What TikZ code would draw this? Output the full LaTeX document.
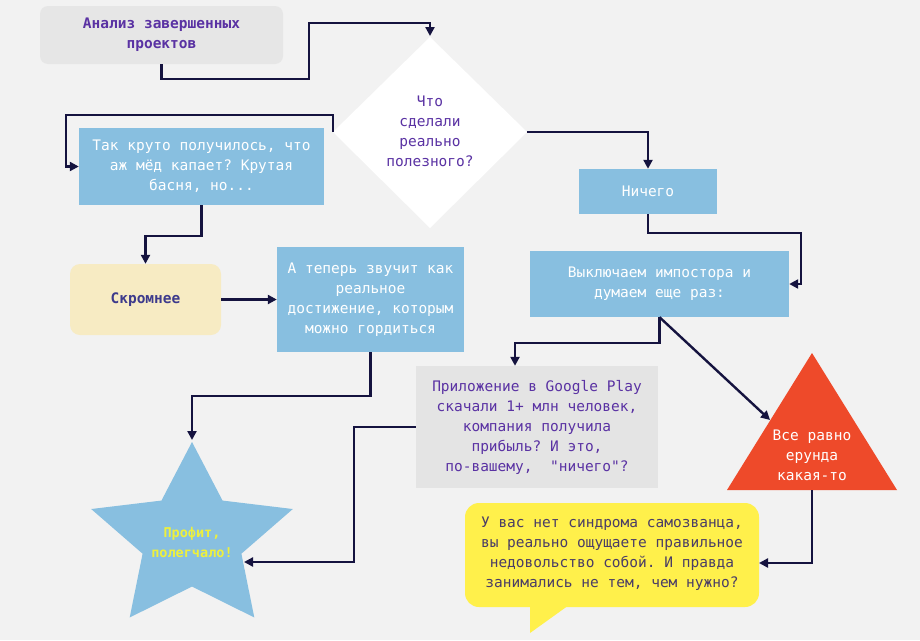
\documentclass[tikz,border=0pt]{standalone}
\usepackage{fontspec}
\setmainfont{DejaVu Sans Mono}
\setmonofont{DejaVu Sans Mono}
\renewcommand{\familydefault}{\ttdefault}
\usetikzlibrary{arrows.meta,calc}
\definecolor{bgc}{HTML}{F2F2F2}
\definecolor{headfill}{HTML}{E6E6E6}
\definecolor{boxblue}{HTML}{88BFE0}
\definecolor{grayfill}{HTML}{E4E4E4}
\definecolor{bubble}{HTML}{FFF04B}
\definecolor{paleyel}{HTML}{F7EBC3}
\definecolor{tri}{HTML}{EE4A2A}
\definecolor{purp}{HTML}{5A32A3}
\definecolor{navytxt}{HTML}{3D3A8C}
\definecolor{conncol}{HTML}{15133F}
\definecolor{startxt}{HTML}{EEF03C}
\definecolor{bubtxt}{HTML}{4A3D66}
\begin{document}
\begin{tikzpicture}[x=1pt,y=-1pt,
  txt/.style={font=\ttfamily\fontsize{14.5}{20}\selectfont, align=center, inner sep=0pt},
  bluebox/.style={txt, fill=boxblue, text=white},
  conn/.style={draw=conncol, line width=2.4pt, -{Triangle[length=9pt,width=9pt]}},
]
\useasboundingbox (0,0) rectangle (920,640);
\fill[bgc] (0,0) rectangle (920,640);

% header
\node[txt, fill=headfill, rounded corners=8pt, minimum width=243pt, minimum height=58pt, text=purp, font=\ttfamily\fontsize{14.5}{20}\selectfont\bfseries] (a) at (161.5,35) {Анализ завершенных\\проектов};

% diamond
\coordinate (dtop) at (430,37);
\coordinate (dleft) at (333,132);
\coordinate (dright) at (527,132);
\coordinate (dbot) at (430,228);
\fill[white] (dtop) -- (dright) -- (dbot) -- (dleft) -- cycle;
\node[txt, text=purp] (dtext) at (430,131) {Что\\сделали\\реально\\полезного?};

% boxes
\node[bluebox, minimum width=245pt, minimum height=77pt] (b) at (201.5,166.5) {Так круто получилось, что\\аж мёд капает? Крутая\\басня, но...};
\node[txt, fill=paleyel, rounded corners=10pt, minimum width=151pt, minimum height=71pt, text=navytxt, font=\ttfamily\fontsize{14.5}{20}\selectfont\bfseries] (c) at (145.5,299.5) {Скромнее};
\node[bluebox, minimum width=187pt, minimum height=105pt] (d) at (370.5,299.5) {А теперь звучит как\\реальное\\достижение, которым\\можно гордиться};
\node[bluebox, minimum width=138pt, minimum height=45pt] (e) at (648,191.5) {Ничего};
\node[bluebox, minimum width=259pt, minimum height=66pt] (f) at (659.5,284) {Выключаем импостора и\\думаем еще раз:};
\node[txt, fill=grayfill, minimum width=242pt, minimum height=122pt, text=purp] (g) at (537,427) {Приложение в Google Play\\скачали 1+ млн человек,\\компания получила\\прибыль? И это,\\по-вашему,~ "ничего"?};

% triangle
\coordinate (ttop) at (812,353);
\coordinate (tbl) at (727,490);
\coordinate (tbr) at (897,490);
\coordinate (tbot) at (812,490);
\coordinate (tleft) at (770,420);
\fill[tri] (ttop) -- (tbr) -- (tbl) -- cycle;
\node[txt, text=white] (ttext) at (812,455) {Все равно\\ерунда\\какая-то};

% star
\fill[boxblue] (192,442) \foreach \k [evaluate=\k as \r using {mod(\k,2)==0 ? 1 : 0.49}] in {1,...,9} { -- ({192+106*\r*cos(90+36*\k)}, {539-97*\r*sin(90+36*\k)}) } -- cycle;
\coordinate (startop) at (192,440);
\coordinate (starright) at (244,562);
\node[txt, text=startxt, font=\ttfamily\fontsize{13.5}{20}\selectfont\bfseries] (s) at (192,542) {Профит,\\полегчало!};

% bubble
\fill[bubble, rounded corners=14pt] (465,503) rectangle (759,607);
\fill[bubble] (530,600) -- (530,633) -- (576,600) -- cycle;
\node[txt, text=bubtxt] (h) at (612,554) {У вас нет синдрома самозванца,\\вы реально ощущаете правильное\\недовольство собой. И правда\\занимались не тем, чем нужно?};
\coordinate (hright) at (759,563);

% connectors
\draw[conn] (a.south) -- ++(0,15) -| (309,23) -- (430,23) -- (430,36);
\draw[conn] (dleft) |- (66,115) |- (b.west);
\draw[conn] (b.south) -- ++(0,31) -| (c.north);
\draw[conn] (c.east) -- (d.west);
\draw[conn] (d.south) -- ++(0,44) -| (startop);
\draw[conn] (dright) -| (e.north);
\draw[conn] (e.south) |- (801,233) |- (f.east);
\draw[conn] (f.south) -- ++(0,26) -| ([xshift=-22pt]g.north);
\draw[conn] (f.south) -- (tleft);
\draw[conn] (tbot) |- (hright);
\draw[conn] (g.west) -| (354,562) -- (starright);
\end{tikzpicture}
\end{document}
